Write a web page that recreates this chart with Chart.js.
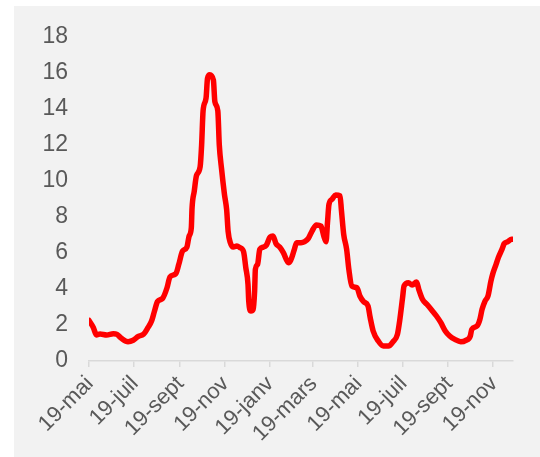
<!DOCTYPE html>
<html>
<head>
<meta charset="utf-8">
<script src="https://cdn.jsdelivr.net/npm/chart.js@4/dist/chart.umd.min.js"></script>
<style>
  html, body { margin: 0; padding: 0; background: #ffffff; }
  #wrap { position: relative; width: 540px; height: 457px; }
</style>
</head>
<body>
<div id="wrap"><canvas id="chart" width="540" height="457"></canvas></div>
<script>
// Days elapsed since 19 May 2020 for each observation
const dayOffsets = [0,6,10,15,24,33,38,44,53,60,
  67,74,80,85,89,93,100,106,110,118,
  122,127,133,136,139,140,143,146,151,153,
  155,159,161,164,169,171,175,177,180,184,
  187,189,192,196,201,205,210,213,216,217,
  220,223,225,226,229,232,237,241,246,250,
  254,259,264,271,274,279,282,288,293,298,
  303,309,315,319,322,324,326,330,335,341,
  343,346,350,353,357,364,368,373,379,382,
  386,393,400,407,413,419,422,426,428,434,
  439,445,448,453,459,466,472,478,484,490,
  497,505,512,518,520,527,531,534,538,542,
  546,549,553,556,561,564,569,574,576];

const seriesValues = [2.25,1.85,1.45,1.5,1.45,1.52,1.48,1.26,1.07,1.15,
  1.37,1.48,1.85,2.22,2.78,3.3,3.48,4.07,4.67,4.85,
  5.37,6.1,6.33,6.94,7.4,8.5,9.44,10.3,10.8,12.0,
  13.9,14.6,15.7,15.9,15.6,14.4,13.9,12.0,10.7,9.26,
  8.4,7.2,6.57,6.33,6.39,6.3,6.07,5.19,4.26,3.33,
  2.78,2.87,3.89,5.09,5.37,6.2,6.33,6.44,6.89,6.94,
  6.52,6.33,6.02,5.46,5.59,6.2,6.57,6.57,6.63,6.81,
  7.22,7.56,7.5,6.94,6.63,7.69,8.7,8.98,9.22,9.17,
  8.33,7.04,6.2,5.09,4.17,4.07,3.61,3.3,3.06,2.41,
  1.67,1.11,0.83,0.83,1.07,1.48,2.22,3.52,4.17,4.35,
  4.22,4.39,3.98,3.43,3.15,2.81,2.5,2.13,1.67,1.39,
  1.2,1.07,1.15,1.39,1.76,1.94,2.31,2.87,3.33,3.61,
  4.44,4.91,5.37,5.74,6.2,6.52,6.63,6.76,6.76];

// Axis ticks: every two months, on the 19th
const tickDays = [0, 61, 123, 184, 245, 304, 365, 426, 488, 549];
const tickLabels = ['19-mai','19-juil','19-sept','19-nov','19-janv','19-mars','19-mai','19-juil','19-sept','19-nov'];
const yTicks = [0, 2, 4, 6, 8, 10, 12, 14, 16, 18];

const points = dayOffsets.map((d, i) => ({ x: d, y: seriesValues[i] }));

// Light grey panel behind the plot
const panelBg = {
  id: 'panelBg',
  beforeDraw(chart) {
    const ctx = chart.ctx;
    ctx.save();
    ctx.fillStyle = '#f2f2f2';
    ctx.fillRect(14, 6, chart.width - 14, chart.height - 6);
    ctx.restore();
  }
};

const FONT = '"Liberation Sans", Arial, sans-serif';

new Chart(document.getElementById('chart'), {
  type: 'line',
  data: {
    datasets: [{
      data: points,
      borderColor: '#ff0000',
      borderWidth: 5.5,
      pointRadius: 0,
      cubicInterpolationMode: 'monotone',
      borderJoinStyle: 'round',
      borderCapStyle: 'round',
      fill: false
    }]
  },
  options: {
    responsive: false,
    animation: false,
    devicePixelRatio: 1,
    layout: { padding: { top: 37, right: 27, bottom: 0, left: 0 } },
    plugins: { legend: { display: false }, tooltip: { enabled: false } },
    scales: {
      x: {
        type: 'linear',
        min: 0,
        max: 576,
        afterBuildTicks(scale) { scale.ticks = tickDays.map(v => ({ value: v })); },
        afterFit(scale) { scale.height = 96; },
        border: { display: true, color: '#d9d9d9', width: 1.5 },
        grid: { drawOnChartArea: false, drawTicks: true, tickLength: 6, color: '#d9d9d9', lineWidth: 1.5 },
        ticks: {
          autoSkip: false,
          minRotation: 45,
          maxRotation: 45,
          padding: 4,
          labelOffset: 1,
          color: '#595959',
          font: { family: FONT, size: 22 },
          callback(value) {
            const i = tickDays.indexOf(value);
            return i >= 0 ? tickLabels[i] : '';
          }
        }
      },
      y: {
        min: 0,
        max: 18,
        afterBuildTicks(scale) { scale.ticks = yTicks.map(v => ({ value: v })); },
        afterFit(scale) { scale.width = 89; },
        border: { display: false },
        grid: { display: false, drawTicks: false },
        ticks: {
          padding: 21,
          color: '#595959',
          font: { family: FONT, size: 23 }
        }
      }
    }
  },
  plugins: [panelBg]
});
</script>
</body>
</html>
